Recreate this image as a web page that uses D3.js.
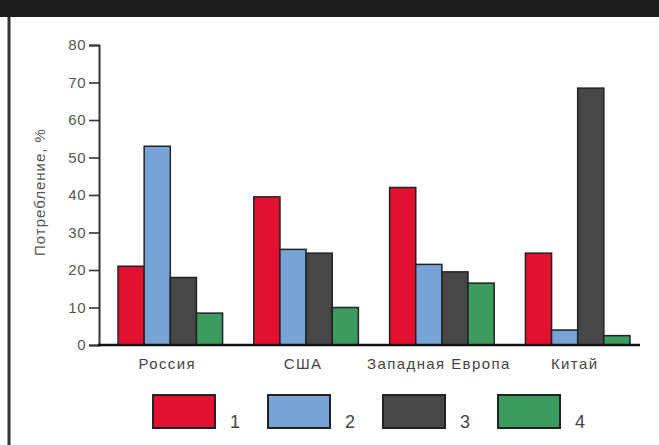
<!DOCTYPE html>
<html>
<head>
<meta charset="utf-8">
<script src="https://cdn.jsdelivr.net/npm/d3@7"></script>
<style>
  html, body { margin: 0; padding: 0; background: #fff; }
  svg { display: block; font-family: "Liberation Sans", Arial, sans-serif; }
</style>
</head>
<body>
<div id="chart"></div>
<script>
// данные
const regions = ["Россия", "США", "Западная Европа", "Китай"];
const seriesKeys = ["1", "2", "3", "4"];
const series1 = [21, 39.5, 42, 24.5];
const series2 = [53, 25.5, 21.5, 4];
const series3 = [18, 24.5, 19.5, 68.5];
const series4 = [8.5, 10, 16.5, 2.5];
const yTicks = [0, 10, 20, 30, 40, 50, 60, 70, 80];
const yTitle = "Потребление, %";

const colors = ["#e3112f", "#78a3d6", "#474747", "#3d9b5f"];

const W = 659, H = 445;
const svg = d3.select("#chart").append("svg").attr("width", W).attr("height", H);

// рамка
svg.append("rect").attr("x", 0).attr("y", 0).attr("width", W).attr("height", 17).attr("fill", "#1d1d1d");
svg.append("line").attr("x1", 9).attr("x2", 9).attr("y1", 17).attr("y2", H)
  .attr("stroke", "#333").attr("stroke-width", 3);

const y = d3.scaleLinear().domain([0, 80]).range([345, 45]);
const x0 = d3.scaleBand().domain(regions).range([99, 649]).paddingInner(0.23).paddingOuter(0.14);
const x1 = d3.scaleBand().domain(seriesKeys).range([0, x0.bandwidth()]);

const rows = regions.map((r, i) => ({
  region: r,
  vals: [series1[i], series2[i], series3[i], series4[i]]
}));

// столбцы
const g = svg.append("g");
g.selectAll("g.grp").data(rows).join("g").attr("class", "grp")
  .attr("transform", (d) => `translate(${x0(d.region)},0)`)
  .selectAll("rect")
  .data((d) => d.vals.map((v, k) => ({ key: seriesKeys[k], v, k })))
  .join("rect")
  .attr("x", (d) => x1(d.key))
  .attr("y", (d) => y(d.v))
  .attr("width", x1.bandwidth())
  .attr("height", (d) => y(0) - y(d.v))
  .attr("fill", (d) => colors[d.k])
  .attr("stroke", "#222")
  .attr("stroke-width", 1.5);

// ось Y
const yAxis = svg.append("g").attr("transform", "translate(99,0)")
  .call(d3.axisLeft(y).tickValues(yTicks).tickSize(10).tickPadding(3));
yAxis.select(".domain").attr("stroke", "#333").attr("stroke-width", 2);
yAxis.selectAll(".tick line").attr("stroke", "#333").attr("stroke-width", 1.6);
yAxis.selectAll(".tick text").style("font-size", "15px").style("letter-spacing", "0.5px").attr("fill", "#555");

// ось X (базовая линия)
svg.append("line").attr("x1", 98).attr("x2", 640).attr("y1", y(0)).attr("y2", y(0))
  .attr("stroke", "#111").attr("stroke-width", 2.5);

svg.append("g").selectAll("text").data(regions).join("text")
  .attr("x", (d) => x0(d) + x0.bandwidth() / 2 - 3)
  .attr("y", 369)
  .attr("text-anchor", "middle")
  .style("font-size", "15px")
  .style("letter-spacing", "1.4px")
  .attr("fill", "#444")
  .text((d) => d);

svg.append("text")
  .attr("transform", "translate(45,192) rotate(-90)")
  .attr("text-anchor", "middle")
  .style("font-size", "15px")
  .style("letter-spacing", "1px")
  .attr("fill", "#555")
  .text(yTitle);

// легенда
const lx = d3.scaleBand().domain(seriesKeys).range([153, 613]);
const leg = svg.append("g").selectAll("g").data(seriesKeys).join("g")
  .attr("transform", (d) => `translate(${lx(d)},395)`);
leg.append("rect").attr("width", 62).attr("height", 33)
  .attr("fill", (d, i) => colors[i]).attr("stroke", "#222").attr("stroke-width", 2);
leg.append("text").attr("x", 77).attr("y", 33)
  .style("font-size", "18px").attr("fill", "#444").text((d) => d);
</script>
</body>
</html>
